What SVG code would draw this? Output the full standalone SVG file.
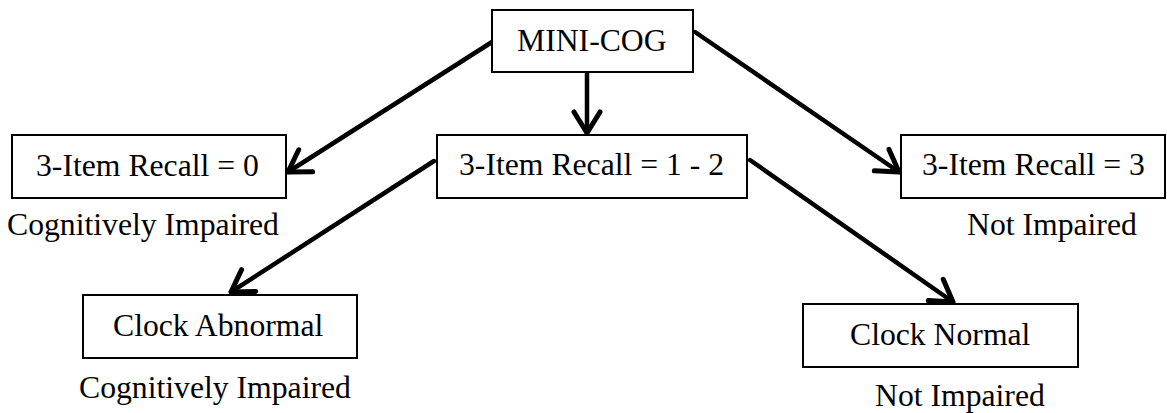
<svg xmlns="http://www.w3.org/2000/svg" width="1167" height="413" viewBox="0 0 1167 413">
<style>
.box{fill:#fff;stroke:#000;stroke-width:2}
.t{font-family:"Liberation Serif","Times New Roman",serif;font-size:31.7px;fill:#000}
.c{fill:none;stroke:#000;stroke-width:4.5;stroke-linecap:round}
</style>
<defs>
<marker id="ah" markerUnits="userSpaceOnUse" viewBox="-28 -20 32 40" markerWidth="32" markerHeight="40" refX="0" refY="0" orient="auto">
<polyline points="-21,-13 0,0 -21,13" fill="none" stroke="#000" stroke-width="5" stroke-linecap="round" stroke-linejoin="round"/>
</marker>
</defs>
<rect width="1167" height="413" fill="#fff"/>
<g id="connectors">
<line class="c" x1="492" y1="42" x2="288" y2="172" marker-end="url(#ah)"/>
<line class="c" x1="587" y1="73" x2="587" y2="133" marker-end="url(#ah)"/>
<line class="c" x1="695" y1="32" x2="899" y2="172" marker-end="url(#ah)"/>
<line class="c" x1="434" y1="161" x2="231" y2="292" marker-end="url(#ah)"/>
<line class="c" x1="750" y1="160" x2="953" y2="302" marker-end="url(#ah)"/>
</g>
<g id="minicog">
<rect class="box" x="492" y="10" width="201" height="62"/>
<text class="t" x="517" y="51">MINI-COG</text>
</g>
<g id="recall0">
<rect class="box" x="12" y="135" width="274" height="63"/>
<text class="t" x="36" y="176">3-Item Recall = 0</text>
<text class="t" x="7" y="235">Cognitively Impaired</text>
</g>
<g id="recall12">
<rect class="box" x="437" y="135" width="310" height="63"/>
<text class="t" x="459" y="175">3-Item Recall = 1 - 2</text>
</g>
<g id="recall3">
<rect class="box" x="901" y="135" width="264" height="63"/>
<text class="t" x="922" y="175">3-Item Recall = 3</text>
<text class="t" x="967" y="235">Not Impaired</text>
</g>
<g id="clockabnormal">
<rect class="box" x="83" y="295" width="274" height="63"/>
<text class="t" x="113" y="336">Clock Abnormal</text>
<text class="t" x="79" y="398">Cognitively Impaired</text>
</g>
<g id="clocknormal">
<rect class="box" x="803" y="304" width="275" height="63"/>
<text class="t" x="850" y="345">Clock Normal</text>
<text class="t" x="875" y="406">Not Impaired</text>
</g>
</svg>
